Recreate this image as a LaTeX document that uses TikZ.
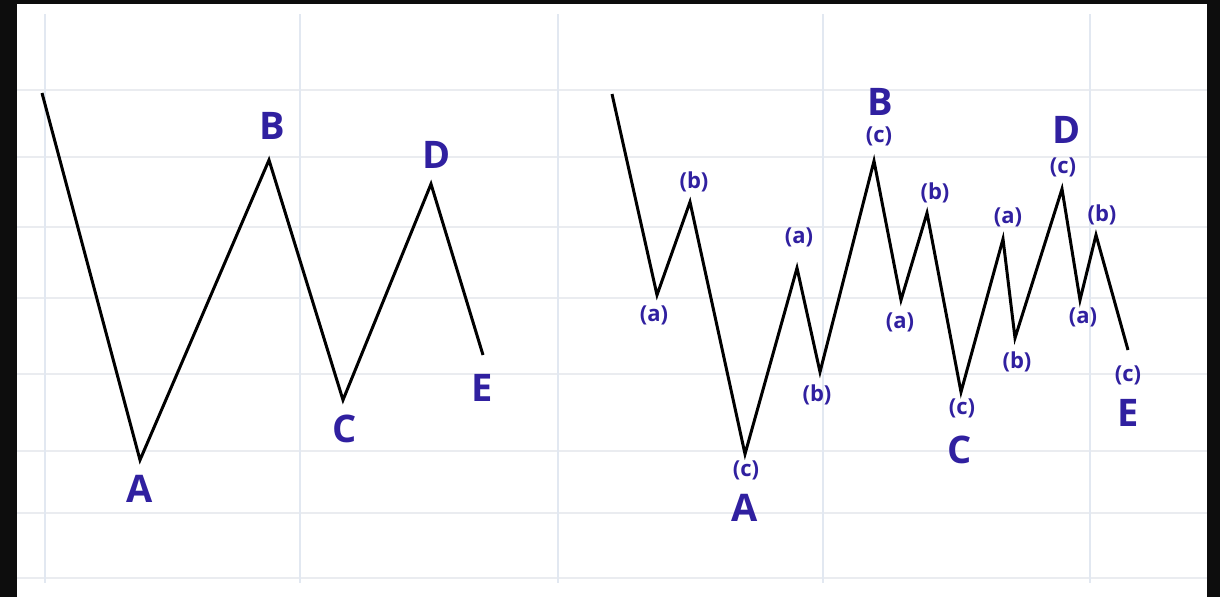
\documentclass[tikz,border=0pt]{standalone}
\usepackage{fontspec}
\setmainfont{Open Sans}
\definecolor{lbl}{RGB}{48,32,160}
\definecolor{gridh}{RGB}{234,236,240}
\definecolor{gridv}{RGB}{226,232,241}
\tikzset{
  wave/.style={line width=3pt,black,line join=miter,line cap=butt},
  big/.style={text=lbl,font=\fontsize{38}{38}\selectfont\bfseries,inner sep=0pt},
  sml/.style={text=lbl,font=\fontsize{22}{22}\selectfont\bfseries,inner sep=0pt},
  gh/.style={gridh,line width=1.8pt},
  gv/.style={gridv,line width=1.5pt}
}
\begin{document}
\begin{tikzpicture}[x=1pt,y=-1pt]
\useasboundingbox (0,0) rectangle (1220,597);
\fill[black!95] (0,0) rectangle (1220,597);
\fill[white] (17,4) rectangle (1207,597);
% grid
\foreach \y in {90,157,227,298,374,451,513,578} \draw[gh] (17,\y) -- (1207,\y);
\foreach \x in {45,300,558,823,1090} \draw[gv] (\x,14) -- (\x,583);
% left wave
\coordinate (L0) at (42,93);
\coordinate (LA) at (140,460);
\coordinate (LB) at (269,160);
\coordinate (LC) at (343,400);
\coordinate (LD) at (431,184);
\coordinate (LE) at (483,355);
\draw[wave] (L0) -- (LA) -- (LB) -- (LC) -- (LD) -- (LE);
\node[big] (tLA) at (140,489) {A};
\node[big] (tLB) at (272,126) {B};
\node[big] (tLC) at (345,429) {C};
\node[big] (tLD) at (437,155) {D};
\node[big] (tLE) at (482,388) {E};
% right wave
\coordinate (R0) at (612,94);
\coordinate (R1) at (657,295);
\coordinate (R2) at (690,202);
\coordinate (R3) at (745,454);
\coordinate (R4) at (797,268);
\coordinate (R5) at (820,372);
\coordinate (R6) at (874,161);
\coordinate (R7) at (901,300);
\coordinate (R8) at (927,213);
\coordinate (R9) at (961,392);
\coordinate (R10) at (1003,239);
\coordinate (R11) at (1015,338);
\coordinate (R12) at (1062,189);
\coordinate (R13) at (1080,300);
\coordinate (R14) at (1096,235);
\coordinate (R15) at (1128,350);
\draw[wave] (R0) -- (R1) -- (R2) -- (R3) -- (R4) -- (R5) -- (R6) -- (R7) -- (R8) -- (R9) -- (R10) -- (R11) -- (R12) -- (R13) -- (R14) -- (R15);
\node[sml] (s1) at (654,315) {(a)};
\node[sml] (s2) at (694,182) {(b)};
\node[sml] (s3) at (746,470) {(c)};
\node[big] (tRA) at (745,508) {A};
\node[sml] (s4) at (799,237) {(a)};
\node[sml] (s5) at (817,395) {(b)};
\node[big] (tRB) at (880,102) {B};
\node[sml] (s6) at (879,136) {(c)};
\node[sml] (s7) at (900,322) {(a)};
\node[sml] (s8) at (935,193) {(b)};
\node[sml] (s9) at (962,408) {(c)};
\node[big] (tRC) at (960,450) {C};
\node[sml] (s10) at (1008,217) {(a)};
\node[sml] (s11) at (1017,362) {(b)};
\node[big] (tRD) at (1067,130) {D};
\node[sml] (s12) at (1063,167) {(c)};
\node[sml] (s13) at (1083,317) {(a)};
\node[sml] (s14) at (1102,215) {(b)};
\node[sml] (s15) at (1128,375) {(c)};
\node[big] (tRE) at (1128,413) {E};
\end{tikzpicture}
\end{document}
